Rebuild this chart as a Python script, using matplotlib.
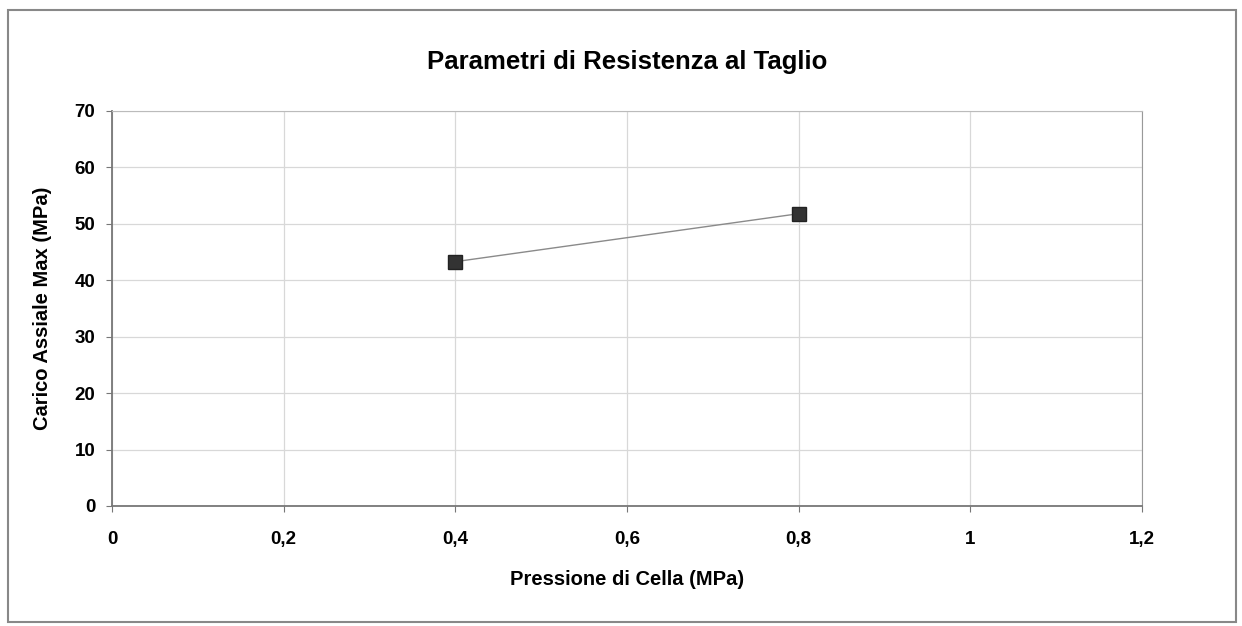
import matplotlib
matplotlib.use("Agg")
import matplotlib.pyplot as plt
from matplotlib.patches import Rectangle
from matplotlib.ticker import FuncFormatter

# dati
pressione = [0.4, 0.8]
carico = [43.3, 51.8]
x_ticks = [0, 0.2, 0.4, 0.6, 0.8, 1.0, 1.2]
y_ticks = [0, 10, 20, 30, 40, 50, 60, 70]

plt.rcParams['font.family'] = ['Liberation Sans', 'DejaVu Sans']

fig = plt.figure(figsize=(12.42, 6.26), dpi=100)
ax = fig.add_axes([0.0902, 0.1917, 0.8293, 0.631])

ax.plot(pressione, carico, color='#8a8a8a', lw=1.0, zorder=2)
ax.plot(pressione, carico, ls='none', marker='s', ms=10, mfc='#333333', mec='#222222', zorder=3)

ax.set_xlim(0, 1.2)
ax.set_ylim(0, 70)
ax.set_xticks(x_ticks)
ax.set_yticks(y_ticks)
ax.xaxis.set_major_formatter(FuncFormatter(lambda v, p: ('%g' % v).replace('.', ',')))
ax.grid(True, color='#d8d8d8', lw=0.9)
ax.set_axisbelow(True)

for s in ['left', 'bottom']:
    ax.spines[s].set_color('#777777')
    ax.spines[s].set_linewidth(1.3)
ax.spines['top'].set_color('#bbbbbb')
ax.spines['right'].set_color('#999999')
ax.tick_params(direction='out', length=4, color='#777777', labelsize=13.5, pad=8)
for lab in ax.get_xticklabels() + ax.get_yticklabels():
    lab.set_fontweight('bold')
ax.tick_params(axis='x', pad=14)

ax.set_title('Parametri di Resistenza al Taglio', fontsize=18.5, fontweight='bold', pad=30)
ax.set_xlabel('Pressione di Cella (MPa)', fontsize=14.5, fontweight='bold', labelpad=16)
ax.set_ylabel('Carico Assiale Max (MPa)', fontsize=14.5, fontweight='bold', labelpad=16)

# cornice esterna del grafico
fig.patches.append(Rectangle((8 / 1242, 4 / 626), 1228 / 1242, 612 / 626,
                             transform=fig.transFigure, fill=False,
                             edgecolor='#888888', lw=1.5))

fig.savefig('out.png', dpi=100)
